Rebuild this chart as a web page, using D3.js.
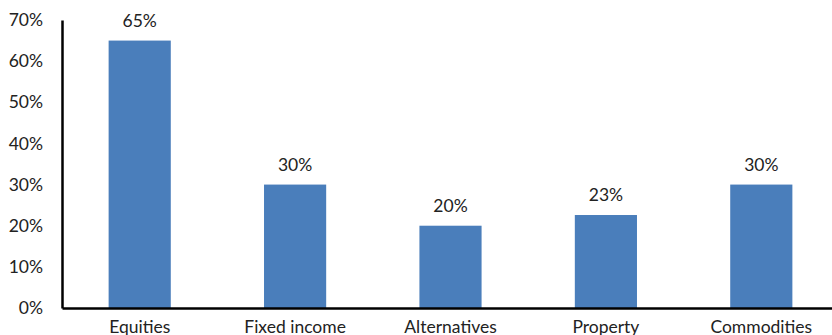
<!DOCTYPE html>
<html>
<head>
<meta charset="utf-8">
<script src="https://cdn.jsdelivr.net/npm/d3@7"></script>
<style>
  body { margin: 0; background: #fff; }
  svg { display: block; font-family: Lato, "Noto Sans", sans-serif; }
</style>
</head>
<body>
<div id="chart"></div>
<script>
// data
var categories = ["Equities", "Fixed income", "Alternatives", "Property", "Commodities"];
var values = [65, 30, 20, 22.6, 30];
var yTicks = [0, 10, 20, 30, 40, 50, 60, 70];

var width = 832, height = 335;
var margin = {top: 20, right: -7, bottom: 27, left: 62};
var fontSize = 17.5;

var svg = d3.select("#chart").append("svg")
    .attr("width", width)
    .attr("height", height);

var x = d3.scaleBand()
    .domain(categories)
    .range([margin.left, width - margin.right])
    .paddingInner(0.6)
    .paddingOuter(0.3);

var y = d3.scaleLinear()
    .domain([0, 70])
    .range([height - margin.bottom, margin.top]);

// bars
svg.selectAll(".bar")
    .data(values)
  .enter().append("rect")
    .attr("class", "bar")
    .attr("x", function(d, i) { return x(categories[i]); })
    .attr("y", function(d) { return y(d); })
    .attr("width", x.bandwidth())
    .attr("height", function(d) { return y(0) - y(d); })
    .attr("fill", "#4a7ebb");

// value labels
svg.selectAll(".val")
    .data(values)
  .enter().append("text")
    .attr("class", "val")
    .attr("x", function(d, i) { return x(categories[i]) + x.bandwidth() / 2; })
    .attr("y", function(d) { return y(d) - 14; })
    .attr("text-anchor", "middle")
    .attr("font-size", fontSize)
    .attr("fill", "#222")
    .text(function(d) { return Math.round(d) + "%"; });

// y axis
var yAxis = svg.append("g")
    .attr("transform", "translate(" + margin.left + ",0)")
    .call(d3.axisLeft(y).tickValues(yTicks).tickSize(0).tickPadding(19)
        .tickFormat(function(d) { return d + "%"; }));
yAxis.select(".domain").attr("stroke", "#000").attr("stroke-width", 2.5);
yAxis.selectAll("text").attr("font-size", fontSize).attr("fill", "#222")
    .attr("font-family", "Lato, 'Noto Sans', sans-serif");

// x axis
var xAxis = svg.append("g")
    .attr("transform", "translate(0," + y(0) + ")")
    .call(d3.axisBottom(x).tickSize(0).tickPadding(13));
xAxis.select(".domain").attr("stroke", "#000").attr("stroke-width", 2.5);
xAxis.selectAll("text").attr("font-size", fontSize).attr("fill", "#222")
    .attr("font-family", "Lato, 'Noto Sans', sans-serif");
</script>
</body>
</html>
